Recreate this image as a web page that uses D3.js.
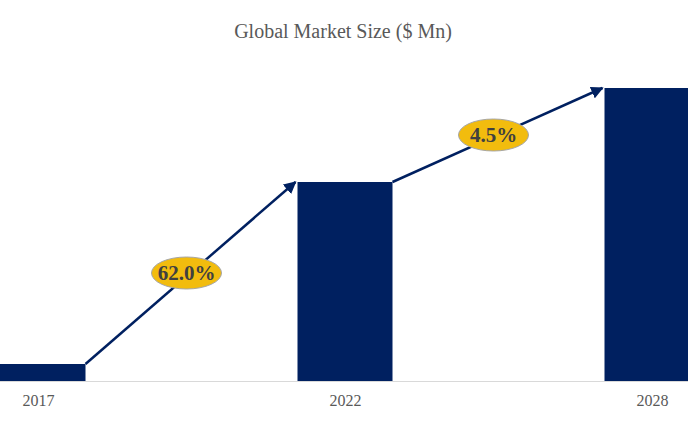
<!DOCTYPE html>
<html><head><meta charset="utf-8">
<script src="https://cdn.jsdelivr.net/npm/d3@7/dist/d3.min.js"></script>
<style>body{margin:0;background:#fff}</style></head>
<body><svg id="c" width="688" height="424"></svg>
<script>
const categories = ["2017", "2022", "2028"];
const values = [17, 199, 293];
const cagrLabels = ["62.0%", "4.5%"];
const title = "Global Market Size ($ Mn)";

const svg = d3.select("#c");
const W = 688, H = 424, base = 381, barW = 95;
const x = d3.scalePoint().domain(categories).range([38, 652]);
const y = d3.scaleLinear().domain([0, 293]).range([base, 88]);

svg.append("text").attr("x", 343).attr("y", 38).attr("text-anchor", "middle")
  .attr("font-family", "Liberation Serif, Times New Roman, serif").attr("font-size", 20)
  .attr("fill", "#595959").text(title);

svg.selectAll("rect.bar").data(categories).join("rect").attr("class","bar")
  .attr("x", d => x(d) - barW/2).attr("width", barW)
  .attr("y", (d,i) => y(values[i])).attr("height", (d,i) => base - y(values[i]))
  .attr("fill", "#002060");

svg.append("line").attr("x1",0).attr("x2",W).attr("y1",base+0.5).attr("y2",base+0.5)
  .attr("stroke","#d9d9d9");

const xa = d3.axisBottom(x).tickSize(0).tickPadding(14);
const g = svg.append("g").attr("transform", `translate(0,${base})`).call(xa);
g.select(".domain").remove();
g.selectAll("text").attr("font-family","Liberation Serif, Times New Roman, serif")
  .attr("font-size",16).attr("fill","#595959");

const defs = svg.append("defs");
defs.append("marker").attr("id","ah").attr("viewBox","0 0 10 10").attr("refX",9).attr("refY",5)
  .attr("markerWidth",5).attr("markerHeight",5).attr("orient","auto")
  .append("path").attr("d","M0,0L10,5L0,10z").attr("fill","#002060");

for (let i = 0; i < 2; i++) {
  const x1 = x(categories[i]) + barW/2, y1 = y(values[i]);
  const x2 = x(categories[i+1]) - barW/2 - 2, y2 = y(values[i+1]);
  svg.append("line").attr("x1",x1).attr("y1",y1).attr("x2",x2).attr("y2",y2)
    .attr("stroke","#002060").attr("stroke-width",2.5).attr("marker-end","url(#ah)");
  const cx = (x1+x2)/2 - 4, cy = (y1+y2)/2;
  svg.append("ellipse").attr("cx",cx).attr("cy",cy).attr("rx",35).attr("ry",16)
    .attr("fill","#F2BC0E").attr("stroke","#a6a6a6").attr("stroke-width",1);
  svg.append("text").attr("x",cx).attr("y",cy+7).attr("text-anchor","middle")
    .attr("font-family","Liberation Serif, Times New Roman, serif").attr("font-size",21)
    .attr("font-weight","bold").attr("fill","#404040").text(cagrLabels[i]);
}
</script></body></html>
